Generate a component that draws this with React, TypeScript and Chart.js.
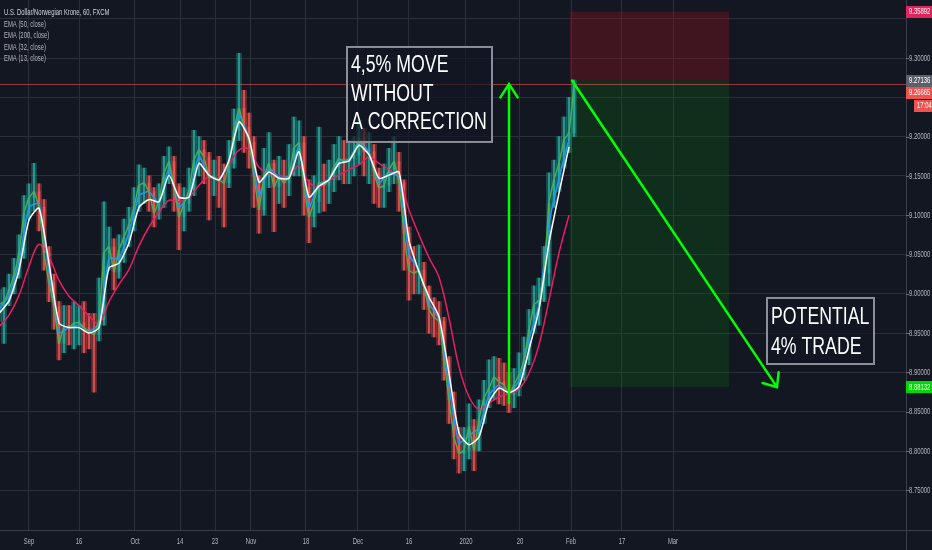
import { useEffect, useRef } from "react";
import { Chart, registerables } from "chart.js";
Chart.register(...registerables);

// ---------- DATA ----------
// one entry per trading day; day 0 = first bar of September
const FIRST_DAY = -6;
const closes = [
  8.986, 8.990, 9.005, 9.024, 9.052, 9.103, 9.122, 9.130, 9.110, 9.052,
  9.014, 8.983, 8.937, 8.958, 8.957, 8.963, 8.963, 8.957, 8.952, 8.948,
  8.967, 9.052, 9.060, 9.028, 9.056, 9.072, 9.088, 9.110, 9.138, 9.141,
  9.130, 9.103, 9.119, 9.153, 9.168, 9.136, 9.098, 9.115, 9.132, 9.170,
  9.183, 9.174, 9.148, 9.148, 9.145, 9.141, 9.166, 9.208, 9.236, 9.212,
  9.193, 9.149, 9.107, 9.149, 9.166, 9.136, 9.149, 9.141, 9.151, 9.185,
  9.192, 9.136, 9.098, 9.117, 9.142, 9.138, 9.145, 9.161, 9.172, 9.168,
  9.172, 9.176, 9.198, 9.181, 9.181, 9.154, 9.135, 9.138, 9.158, 9.168,
  9.141, 9.077, 9.030, 9.026, 9.030, 9.009, 8.980, 8.970, 8.965, 8.916,
  8.865, 8.818, 8.797, 8.801, 8.831, 8.801, 8.840, 8.867, 8.880, 8.894,
  8.888, 8.884, 8.872, 8.884, 8.897, 8.916, 8.954, 8.986, 8.992, 9.026,
  9.115, 9.145, 9.166, 9.196, 9.205, 9.266,
];
const highs = [
  9.005, 9.008, 9.025, 9.045, 9.075, 9.125, 9.140, 9.166, 9.140, 9.120,
  9.060, 9.025, 8.990, 8.985, 8.985, 8.990, 8.985, 8.990, 8.975, 8.975,
  9.020, 9.117, 9.085, 9.070, 9.075, 9.095, 9.110, 9.135, 9.164, 9.160,
  9.150, 9.135, 9.140, 9.175, 9.187, 9.175, 9.140, 9.135, 9.160, 9.208,
  9.200, 9.195, 9.180, 9.170, 9.175, 9.165, 9.195, 9.235, 9.306, 9.259,
  9.230, 9.200, 9.150, 9.185, 9.205, 9.170, 9.175, 9.170, 9.190, 9.225,
  9.220, 9.200, 9.145, 9.150, 9.212, 9.165, 9.170, 9.190, 9.200, 9.195,
  9.195, 9.200, 9.221, 9.210, 9.205, 9.190, 9.160, 9.165, 9.185, 9.200,
  9.180, 9.145, 9.085, 9.060, 9.062, 9.040, 9.010, 8.995, 8.990, 8.970,
  8.920, 8.875, 8.830, 8.830, 8.860, 8.840, 8.865, 8.890, 8.916, 8.920,
  8.918, 8.912, 8.900, 8.905, 8.925, 8.945, 8.980, 9.010, 9.020, 9.060,
  9.154, 9.170, 9.200, 9.225, 9.250, 9.272,
];
const lows = [
  8.965, 8.937, 8.985, 9.000, 9.020, 9.045, 9.095, 9.105, 9.080, 9.030,
  8.990, 8.955, 8.916, 8.925, 8.935, 8.930, 8.935, 8.925, 8.930, 8.875,
  8.940, 8.960, 9.030, 9.005, 9.020, 9.040, 9.060, 9.080, 9.105, 9.115,
  9.105, 9.085, 9.095, 9.110, 9.140, 9.105, 9.056, 9.080, 9.105, 9.125,
  9.150, 9.140, 9.094, 9.125, 9.110, 9.085, 9.135, 9.160, 9.195, 9.180,
  9.160, 9.110, 9.077, 9.100, 9.135, 9.079, 9.115, 9.110, 9.125, 9.150,
  9.150, 9.100, 9.065, 9.085, 9.103, 9.105, 9.115, 9.130, 9.145, 9.140,
  9.140, 9.150, 9.165, 9.150, 9.140, 9.115, 9.110, 9.110, 9.130, 9.140,
  9.105, 9.030, 8.992, 9.000, 9.000, 8.980, 8.950, 8.945, 8.935, 8.890,
  8.835, 8.790, 8.772, 8.775, 8.790, 8.775, 8.800, 8.835, 8.855, 8.865,
  8.860, 8.858, 8.849, 8.855, 8.870, 8.890, 8.910, 8.950, 8.960, 8.990,
  9.010, 9.110, 9.130, 9.160, 9.180, 9.200,
];
// EMA lines, read every 2 trading days from FIRST_DAY
const EMA_STEP = 2;
const ema50 = [
  8.975, 8.991, 9.030, 9.094, 9.109, 9.039, 8.963, 8.957, 8.957, 8.950,
  8.957, 9.033, 9.039, 9.065, 9.110, 9.120, 9.117, 9.151, 9.123, 9.123,
  9.166, 9.151, 9.145, 9.170, 9.219, 9.198, 9.142, 9.155, 9.147, 9.147,
  9.181, 9.123, 9.137, 9.145, 9.166, 9.169, 9.189, 9.177, 9.147, 9.151,
  9.155, 9.068, 9.028, 8.996, 8.971, 8.899, 8.823, 8.808, 8.818, 8.862,
  8.880, 8.874, 8.882, 8.929, 8.980, 9.065, 9.128, 9.187,
];
const ema200 = [
  8.958, 8.973, 8.998, 9.035, 9.063, 9.047, 9.017, 8.997, 8.985, 8.972,
  8.962, 8.990, 9.012, 9.031, 9.061, 9.085, 9.104, 9.119, 9.117, 9.123,
  9.138, 9.149, 9.147, 9.164, 9.183, 9.184, 9.161, 9.153, 9.151, 9.149,
  9.163, 9.142, 9.136, 9.144, 9.151, 9.158, 9.164, 9.174, 9.166, 9.158,
  9.147, 9.107, 9.075, 9.046, 9.021, 8.969, 8.907, 8.869, 8.853, 8.861,
  8.869, 8.873, 8.879, 8.899, 8.935, 8.992, 9.052, 9.100,
];
const ema32 = [
  8.980, 8.998, 9.040, 9.110, 9.115, 9.028, 8.950, 8.957, 8.960, 8.952,
  8.962, 9.045, 9.045, 9.078, 9.125, 9.130, 9.115, 9.160, 9.110, 9.127,
  9.175, 9.150, 9.145, 9.168, 9.228, 9.196, 9.125, 9.160, 9.148, 9.150,
  9.187, 9.110, 9.140, 9.145, 9.170, 9.170, 9.194, 9.180, 9.141, 9.155,
  9.148, 9.050, 9.030, 8.988, 8.968, 8.882, 8.810, 8.820, 8.829, 8.871,
  8.884, 8.873, 8.890, 8.942, 8.986, 9.090, 9.147, 9.196,
];

const xTickLabels = ["Sep", "16", "Oct", "14", "23", "Nov", "18", "Dec", "16", "2020", "20", "Feb", "17", "Mar"];
const xTickDays = [0, 10, 21.2, 30.2, 37.2, 44.4, 55.4, 65.8, 76, 87.4, 98.2, 108.4, 118.6, 128.8];
const yTickValues = [8.75, 8.8, 8.85, 8.9, 8.95, 9.0, 9.05, 9.1, 9.15, 9.2, 9.25, 9.3, 9.35];

const legendLines = [
  "U.S. Dollar/Norwegian Krone, 60, FXCM",
  "EMA (50, close)",
  "EMA (200, close)",
  "EMA (32, close)",
  "EMA (13, close)",
];

const stopPrice = 9.35892;
const entryPrice = 9.27136;
const lastPrice = 9.26665;
const targetPrice = 8.88132;
const countdownText = "17:04";
const zoneDays = [108.2, 140];
const moveArrow = { day: 96, from: 8.861, to: 9.267 };
const tradeArrow = { fromDay: 108.6, fromPrice: 9.2714, toDay: 149.6, toPrice: 8.8813 };
const note1 = { lines: ["4,5% MOVE", "WITHOUT", "A CORRECTION"], days: [63.4, 92.8], prices: [9.3153, 9.1919] };
const note2 = { lines: ["POTENTIAL", "4% TRADE"], days: [147.4, 169.2], prices: [8.996, 8.9094] };

// ---------- helpers ----------
const SMALL_FONT = '9.5px "Liberation Sans", Arial, sans-serif';
function smallText(ctx: CanvasRenderingContext2D, text: string, x: number, y: number, color: string, align = "left", sx = 0.62) {
  ctx.save();
  ctx.font = SMALL_FONT;
  ctx.fillStyle = color;
  ctx.textBaseline = "middle";
  ctx.textAlign = "left";
  const w = ctx.measureText(text).width * sx;
  const x0 = align === "center" ? x - w / 2 : align === "right" ? x - w : x;
  ctx.translate(x0, y);
  ctx.scale(sx, 1);
  ctx.fillText(text, 0, 0);
  ctx.restore();
}

function drawArrow(ctx: CanvasRenderingContext2D, x1: number, y1: number, x2: number, y2: number, len: number, ang: number) {
  ctx.beginPath();
  ctx.moveTo(x1, y1);
  ctx.lineTo(x2, y2);
  const a = Math.atan2(y1 - y2, x1 - x2);
  ctx.moveTo(x2 + len * Math.cos(a + ang), y2 + len * Math.sin(a + ang));
  ctx.lineTo(x2, y2);
  ctx.lineTo(x2 + len * Math.cos(a - ang), y2 + len * Math.sin(a - ang));
  ctx.stroke();
}

const NOTE_SCALE_X = 0.77;
function noteBox(ctx: CanvasRenderingContext2D, x1: number, y1: number, x2: number, y2: number, lines: string[], offsets: number[]) {
  ctx.save();
  ctx.fillStyle = "rgba(19,23,34,0.7)";
  ctx.fillRect(x1, y1, x2 - x1, y2 - y1);
  ctx.strokeStyle = "#8c8f98";
  ctx.lineWidth = 2;
  ctx.strokeRect(x1 + 1, y1 + 1, x2 - x1 - 2, y2 - y1 - 2);
  ctx.font = '23px "Liberation Sans", Arial, sans-serif';
  ctx.fillStyle = "#ffffff";
  ctx.textBaseline = "middle";
  ctx.textAlign = "left";
  lines.forEach((t, i) => {
    ctx.save();
    ctx.translate(x1 + 5, y1 + offsets[i]);
    ctx.scale(NOTE_SCALE_X, 1);
    ctx.fillText(t, 0, 0);
    ctx.restore();
  });
  ctx.restore();
}

const overlay = {
  id: "overlay",
  beforeDraw(chart: any) {
    const ctx = chart.ctx;
    ctx.save();
    ctx.fillStyle = "#131722";
    ctx.fillRect(0, 0, chart.width, chart.height);
    ctx.restore();
  },
  beforeDatasetsDraw(chart: any) {
    const { ctx, scales, chartArea } = chart;
    const xs = scales.x, ys = scales.y;
    const zx1 = xs.getPixelForValue(zoneDays[0]);
    const zx2 = xs.getPixelForValue(zoneDays[1]);
    const yStop = ys.getPixelForValue(stopPrice);
    const yEntry = ys.getPixelForValue(entryPrice);
    const yTarget = ys.getPixelForValue(targetPrice);
    ctx.save();
    ctx.fillStyle = "rgba(169,16,31,0.3)";
    ctx.fillRect(zx1, yStop, zx2 - zx1, yEntry - yStop);
    ctx.fillStyle = "rgba(4,138,4,0.2)";
    ctx.fillRect(zx1, yEntry, zx2 - zx1, yTarget - yEntry);
    const yl = Math.round(ys.getPixelForValue(lastPrice)) + 0.5;
    ctx.strokeStyle = "rgba(239,83,80,0.6)";
    ctx.lineWidth = 1;
    ctx.beginPath();
    ctx.moveTo(chartArea.left, yl);
    ctx.lineTo(chartArea.right, yl);
    ctx.stroke();
    ctx.restore();
  },
  afterDatasetsDraw(chart: any) {
    const { ctx, scales } = chart;
    const xs = scales.x, ys = scales.y;
    ctx.save();
    ctx.strokeStyle = "#00ff00";
    ctx.lineWidth = 2.5;
    ctx.lineCap = "round";
    const ax = xs.getPixelForValue(moveArrow.day);
    drawArrow(ctx, ax, ys.getPixelForValue(moveArrow.from), ax, ys.getPixelForValue(moveArrow.to), 16, 0.57);
    drawArrow(
      ctx,
      xs.getPixelForValue(tradeArrow.fromDay), ys.getPixelForValue(tradeArrow.fromPrice),
      xs.getPixelForValue(tradeArrow.toDay), ys.getPixelForValue(tradeArrow.toPrice),
      15, 0.7
    );
    ctx.restore();
    noteBox(
      ctx,
      xs.getPixelForValue(note1.days[0]), ys.getPixelForValue(note1.prices[0]),
      xs.getPixelForValue(note1.days[1]), ys.getPixelForValue(note1.prices[1]),
      note1.lines, [20, 49, 77]
    );
    noteBox(
      ctx,
      xs.getPixelForValue(note2.days[0]), ys.getPixelForValue(note2.prices[0]),
      xs.getPixelForValue(note2.days[1]), ys.getPixelForValue(note2.prices[1]),
      note2.lines, [21, 51]
    );
  },
  afterDraw(chart: any) {
    const { ctx, scales, chartArea, width, height } = chart;
    const xs = scales.x, ys = scales.y;
    ctx.save();
    ctx.strokeStyle = "#3a3e4a";
    ctx.lineWidth = 1;
    ctx.beginPath();
    ctx.moveTo(0, chartArea.bottom + 0.5);
    ctx.lineTo(width, chartArea.bottom + 0.5);
    ctx.moveTo(chartArea.right + 0.5, 0);
    ctx.lineTo(chartArea.right + 0.5, height);
    ctx.stroke();

    const tags = [
      { v: stopPrice, bg: "#e0245e", fg: "#ffffff" },
      { v: entryPrice, bg: "#5d606b", fg: "#ffffff" },
      { v: lastPrice, bg: "#ef5350", fg: "#ffffff", extra: countdownText },
      { v: targetPrice, bg: "#00d600", fg: "#f0fff0" },
    ];
    const H = 12;
    let prev = -100;
    const placed = tags.map((t) => {
      let y = ys.getPixelForValue(t.v);
      if (y < prev + H) y = prev + H;
      prev = y + ((t as any).extra ? H + 1 : 0);
      return { ...t, y };
    });

    yTickValues.forEach((v) => {
      const y = ys.getPixelForValue(v);
      if (placed.some((p) => Math.abs(p.y - y) < 9 || ((p as any).extra && Math.abs(p.y + 13 - y) < 9))) return;
      ctx.strokeStyle = "#6a6d78";
      ctx.beginPath();
      ctx.moveTo(chartArea.right, Math.round(y) + 0.5);
      ctx.lineTo(chartArea.right + 3, Math.round(y) + 0.5);
      ctx.stroke();
      smallText(ctx, v.toFixed(5), chartArea.right + 3, y, "#b2b5be");
    });

    placed.forEach((p: any) => {
      ctx.fillStyle = p.bg;
      ctx.fillRect(chartArea.right, Math.round(p.y - H / 2), width - chartArea.right, H);
      smallText(ctx, p.v.toFixed(5), chartArea.right + 3, p.y, p.fg);
      if (p.extra) {
        ctx.fillStyle = p.bg;
        ctx.fillRect(chartArea.right + 8, Math.round(p.y + H / 2 + 1), width - chartArea.right - 8, H);
        smallText(ctx, p.extra, chartArea.right + 11, p.y + H + 1, p.fg);
      }
    });

    xTickLabels.forEach((lab, i) => {
      const x = xs.getPixelForValue(xTickDays[i]);
      smallText(ctx, lab, x, chartArea.bottom + 11, "#b2b5be", "center");
    });

    const legendY = [12, 24, 35.5, 47, 58.5];
    legendLines.forEach((t, i) => {
      smallText(ctx, t, 4, legendY[i], i === 0 ? "#d1d4dc" : "#b2b5be");
    });
    ctx.restore();
  },
};

export default function App() {
  const ref = useRef<HTMLCanvasElement>(null);
  useEffect(() => {
    document.body.style.margin = "0";
    const days = closes.map((_, i) => FIRST_DAY + i);
    const opens = closes.map((c, i) => (i === 0 ? lows[0] + (c - lows[0]) * 0.5 : closes[i - 1]));
    const up = closes.map((c, i) => c >= opens[i]);
    const emaDays = ema50.map((_, i) => FIRST_DAY + i * EMA_STEP);
    const toPts = (arr: number[]) => arr.map((v, i) => ({ x: emaDays[i], y: v }));

    const chart = new Chart(ref.current!, {
      type: "bar",
      data: {
        datasets: [
          {
            type: "bar",
            label: "ranges",
            data: days.map((d, i) => ({ x: d, y: [lows[i], highs[i]] })) as any,
            backgroundColor: up.map((u) => (u ? "rgba(38,166,154,0.38)" : "rgba(239,83,80,0.38)")),
            barThickness: 5,
            grouped: false,
            order: 10,
          } as any,
          {
            type: "bar",
            label: "wicks",
            data: days.map((d, i) => ({ x: d, y: [lows[i], highs[i]] })) as any,
            backgroundColor: up.map((u) => (u ? "#26a69a" : "#ef5350")),
            barThickness: 1,
            grouped: false,
            order: 9,
          } as any,
          {
            type: "bar",
            label: "bodies",
            data: days.map((d, i) => ({ x: d, y: [opens[i], closes[i]] })) as any,
            backgroundColor: up.map((u) => (u ? "#26a69a" : "#ef5350")),
            barThickness: 2,
            minBarLength: 2,
            grouped: false,
            order: 8,
          } as any,
          {
            type: "line",
            label: "EMA (200, close)",
            data: toPts(ema200),
            borderColor: "#e91e63",
            borderWidth: 1.5,
            pointRadius: 0,
            tension: 0.35,
            order: 4,
          },
          {
            type: "line",
            label: "EMA (32, close)",
            data: toPts(ema32),
            borderColor: "#2196f3",
            borderWidth: 1.6,
            pointRadius: 0,
            tension: 0.15,
            order: 3,
          },
          {
            type: "line",
            label: "EMA (13, close)",
            data: days.map((d, i) => ({ x: d, y: closes[i] })),
            borderColor: "#4caf50",
            borderWidth: 1.4,
            pointRadius: 0,
            tension: 0.1,
            order: 2,
          },
          {
            type: "line",
            label: "EMA (50, close)",
            data: toPts(ema50),
            borderColor: "#ffffff",
            borderWidth: 1.5,
            pointRadius: 0,
            tension: 0.2,
            order: 1,
          },
        ],
      },
      options: {
        responsive: false,
        animation: false,
        devicePixelRatio: 1,
        layout: { padding: 0 },
        plugins: { legend: { display: false }, tooltip: { enabled: false } },
        scales: {
          x: {
            type: "linear",
            min: -5.8,
            max: 175.4,
            offset: false,
            grid: { color: "#2a2e39", drawTicks: false, offset: false },
            border: { display: false },
            ticks: { display: false },
            afterBuildTicks: (s: any) => {
              s.ticks = xTickDays.map((v) => ({ value: v }));
            },
            afterFit: (s: any) => {
              s.height = 20;
            },
          },
          y: {
            type: "linear",
            position: "right",
            min: 8.6995,
            max: 9.3738,
            grid: { color: "#2a2e39", drawTicks: false },
            border: { display: false },
            ticks: { display: false },
            afterBuildTicks: (s: any) => {
              s.ticks = yTickValues.map((v) => ({ value: v }));
            },
            afterFit: (s: any) => {
              s.width = 26;
            },
          },
        },
      } as any,
      plugins: [overlay],
    });
    return () => chart.destroy();
  }, []);
  return (
    <div style={{ width: 932, height: 550, background: "#131722" }}>
      <canvas ref={ref} width={932} height={550} style={{ display: "block" }} />
    </div>
  );
}
